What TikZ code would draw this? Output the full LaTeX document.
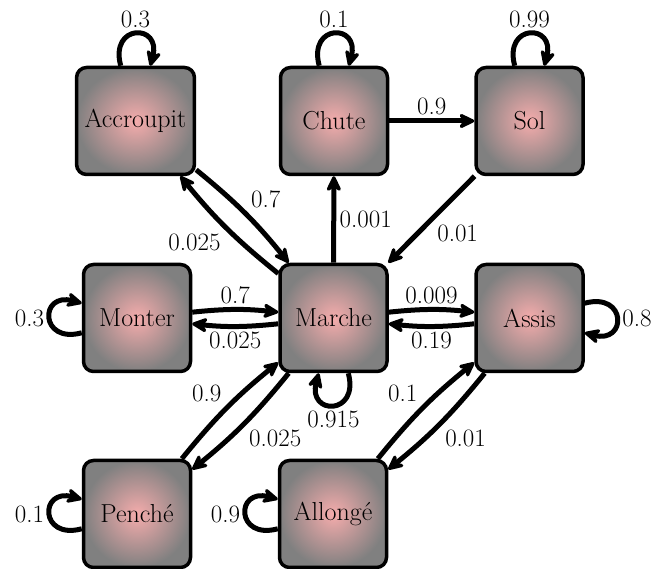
\documentclass[tikz,border=0pt]{standalone}
\usetikzlibrary{arrows.meta}
\definecolor{pinkc}{RGB}{245,172,172}
\definecolor{grayc}{RGB}{128,128,128}
\begin{document}
\begin{tikzpicture}[x=1pt,y=1pt,
  state/.style={draw, line width=3.5pt, rounded corners=10pt,
    minimum width=107pt, minimum height=107pt, inner sep=8pt,
    inner color=pinkc, outer color=grayc,
    font=\rmfamily\fontsize{26}{31}\selectfont},
  arr/.style={line width=5pt, -{Stealth[length=20pt,width=19pt,inset=7pt,round]}},
  lbl/.style={font=\rmfamily\fontsize{25}{30}\selectfont, auto},
  pair/.style={bend left=6},
  every loop/.style={min distance=0pt, looseness=3.8}]
\useasboundingbox (0,0) rectangle (656,569);

\node[state] (Acc) at (135.5,448) {Accroupit};
\node[state] (Chu) at (334,448) {Chute};
\node[state] (Sol) at (529.5,448) {Sol};
\node[state] (Mon) at (137,251) {Monter};
\node[state] (Mar) at (333.5,251) {Marche};
\node[state] (Ass) at (529.5,251) {Assis};
\node[state] (Pen) at (137,55) {Penché};
\node[state] (All) at (333,55) {Allongé};

% self loops
\draw[arr] (Acc) to[loop above] node[lbl] {0.3} ();
\draw[arr] (Chu) to[loop above] node[lbl] {0.1} ();
\draw[arr] (Sol) to[loop above] node[lbl] {0.99} ();
\draw[arr] (Mon) to[loop left] node[lbl] {0.3} ();
\draw[arr] (Ass) to[loop right] node[lbl] {0.8} ();
\draw[arr] (Mar) to[loop below] node[lbl] {0.915} ();
\draw[arr] (Pen) to[loop left] node[lbl] {0.1} ();
\draw[arr] (All) to[loop left] node[lbl] {0.9} ();

% straight edges
\draw[arr] (Chu) to node[lbl] {0.9} (Sol);
\draw[arr] (Mar) to node[lbl, swap] {0.001} (Chu);
\draw[arr] (Sol) to node[lbl] {0.01} (Mar);

% paired edges
\draw[arr] (Acc) to[pair] node[lbl] {0.7} (Mar);
\draw[arr] (Mar) to[pair] node[lbl] {0.025} (Acc);
\draw[arr] (Mon) to[pair] node[lbl] {0.7} (Mar);
\draw[arr] (Mar) to[pair] node[lbl] {0.025} (Mon);
\draw[arr] (Mar) to[pair] node[lbl] {0.009} (Ass);
\draw[arr] (Ass) to[pair] node[lbl] {0.19} (Mar);
\draw[arr] (Pen) to[pair] node[lbl] {0.9} (Mar);
\draw[arr] (Mar) to[pair] node[lbl] {0.025} (Pen);
\draw[arr] (All) to[pair] node[lbl] {0.1} (Ass);
\draw[arr] (Ass) to[pair] node[lbl] {0.01} (All);
\end{tikzpicture}
\end{document}
